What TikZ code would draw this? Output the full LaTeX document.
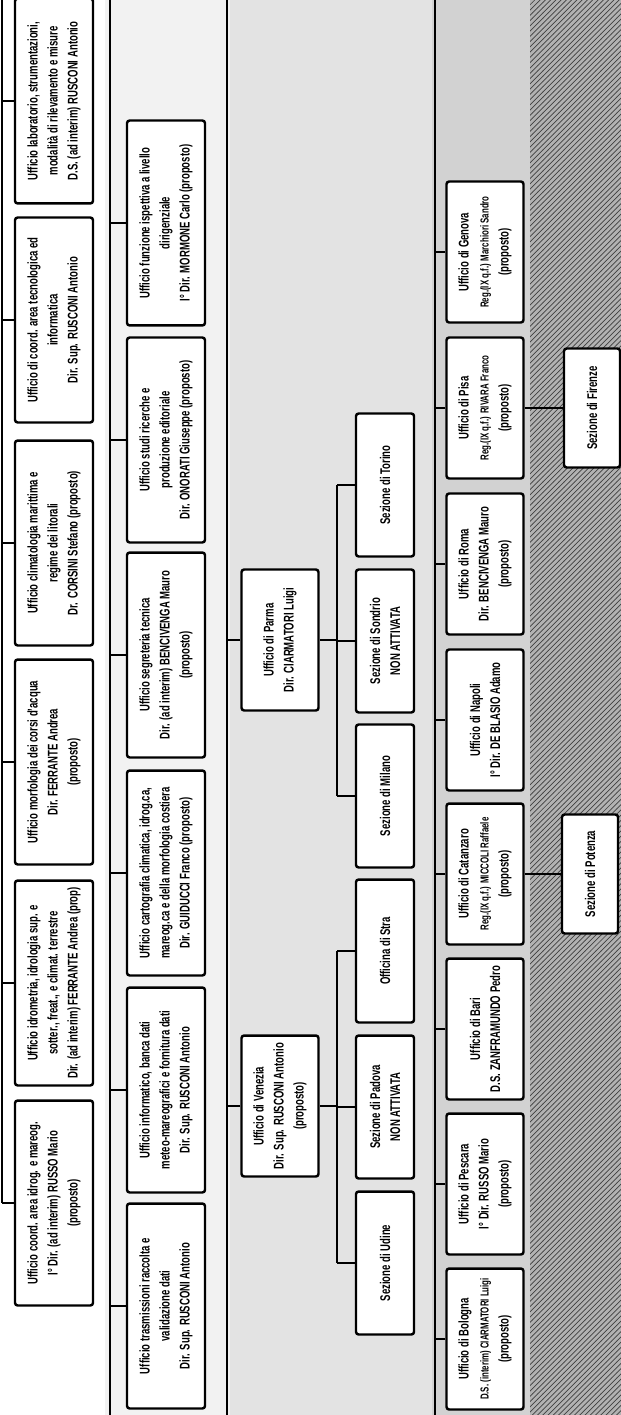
\documentclass[tikz,border=0pt]{standalone}
\usepackage{fontspec}
\setmainfont[FakeStretch=0.68]{Liberation Sans}
\usetikzlibrary{positioning,patterns}

\newcommand\regline[1]{{\fontsize{6.6}{11.4}\selectfont #1}}

\tikzset{
  office/.style={draw, line width=1.4pt, fill=white, rounded corners=1.5pt, rotate=90,
    align=center, inner sep=1pt, font=\bfseries\fontsize{8}{11.4}\selectfont},
  big/.style={office, minimum width=4.1cm, minimum height=1.56cm},
  mid/.style={office, minimum width=2.82cm, minimum height=1.54cm},
  sez/.style={office, minimum width=2.86cm, minimum height=1.16cm},
  small/.style={office, minimum width=2.38cm, minimum height=1.12cm},
  link/.style={line width=0.9pt},
}

\begin{document}
\begin{tikzpicture}[x=0.02cm, y=-0.02cm]
  \useasboundingbox (0,0) rectangle (621,1415);
  \fill[white] (0,0) rectangle (621,1415);
  \fill[gray!10] (105,0) rectangle (230,1415);
  \fill[gray!22] (230,0) rectangle (432,1415);
  \fill[gray!35] (432,0) rectangle (530,1415);
  \fill[gray!60] (530,0) rectangle (621,1415);
  \fill[pattern=north east lines, pattern color=black!75] (530,0) rectangle (621,1415);

  \coordinate (b1) at (2,0);
  \coordinate (s2a) at (110,0);
  \coordinate (s2b) at (110,1415);
  \coordinate (s3a) at (227,0);
  \coordinate (s3b) at (227,1415);
  \coordinate (s4) at (337,0);
  \coordinate (s5a) at (435,0);
  \coordinate (s5b) at (435,1415);

  \node[big] (lab) at (54,101) {Ufficio laboratorio, strumentazioni,\\ modalità di rilevamento e misure\\ D.S. (ad interim) RUSCONI Antonio};
  \node[big] (tecn) at (54,320) {Ufficio di coord. area tecnologica ed\\ informatica\\ Dir. Sup. RUSCONI Antonio};
  \node[big] (clim) at (54,543) {Ufficio climatologia marittima e\\ regime dei litorali\\ Dr. CORSINI Stefano (proposto)};
  \node[big] (morf) at (54,762) {Ufficio morfologia dei corsi d'acqua\\ Dir. FERRANTE Andrea\\ (proposto)};
  \node[big] (idro) at (54,983) {Ufficio idrometria, idrologia sup. e\\ sotter., freat., e climat. terrestre\\ Dir. (ad interim) FERRANTE Andrea (prop)};
  \node[big] (cidr) at (54,1203) {Ufficio coord. area idrog. e mareog.\\ I° Dir. (ad interim) RUSSO Mario\\ (proposto)};

  \node[big] (funz) at (166,223) {Ufficio funzione ispettiva a livello\\ dirigenziale\\ I° Dir. MORMONE Carlo (proposto)};
  \node[big] (stud) at (166,440) {Ufficio studi ricerche e\\ produzione editoriale\\ Dir. ONORATI Giuseppe (proposto)};
  \node[big] (segr) at (166,655) {Ufficio segreteria tecnica\\ Dir. (ad interim) BENCIVENGA Mauro\\ (proposto)};
  \node[big] (cart) at (166,873) {Ufficio cartografia climatica, idrog.ca,\\ mareog.ca e della morfologia costiera\\ Dir. GUIDUCCI Franco (proposto)};
  \node[big] (info) at (166,1090) {Ufficio informatico, banca dati\\ meteo-mareografici e fornitura dati\\ Dir. Sup. RUSCONI Antonio};
  \node[big] (tras) at (166,1306) {Ufficio trasmissioni raccolta e\\ validazione dati\\ Dir. Sup. RUSCONI Antonio};

  \node[mid] (parma) at (280,640) {Ufficio di Parma\\ Dir. CIARMATORI Luigi};
  \node[mid] (venezia) at (280,1106) {Ufficio di Venezia\\ Dir. Sup. RUSCONI Antonio\\ (proposto)};

  \node[sez] (torino) at (385,485) {Sezione di Torino};
  \node[sez] (sondrio) at (385,641) {Sezione di Sondrio\\ NON ATTIVATA};
  \node[sez] (milano) at (385,796) {Sezione di Milano};
  \node[sez] (stra) at (385,951) {Officina di Stra};
  \node[sez] (padova) at (385,1107) {Sezione di Padova\\ NON ATTIVATA};
  \node[sez] (udine) at (385,1263) {Sezione di Udine};

  \node[mid] (genova) at (485,252) {Ufficio di Genova\\ \regline{Reg.(IX q.f.) Marchiori Sandro}\\ (proposto)};
  \node[mid] (pisa) at (485,408) {Ufficio di Pisa\\ \regline{Reg.(IX q.f.) RIVARA Franco}\\ (proposto)};
  \node[mid] (roma) at (485,564) {Ufficio di Roma\\ Dir. BENCIVENGA Mauro\\ (proposto)};
  \node[mid] (napoli) at (485,720) {Ufficio di Napoli\\ I° Dir. DE BLASIO Adamo};
  \node[mid] (catanzaro) at (485,874) {Ufficio di Catanzaro\\ \regline{Reg.(IX q.f.) MICCOLI Raffaele}\\ (proposto)};
  \node[mid] (bari) at (485,1029) {Ufficio di Bari\\ D.S. ZANFRAMUNDO Pedro};
  \node[mid] (pescara) at (485,1184) {Ufficio di Pescara\\ I° Dir. RUSSO Mario\\ (proposto)};
  \node[mid] (bologna) at (485,1339) {Ufficio di Bologna\\ \regline{D.S. (interim) CIARMATORI Luigi}\\ (proposto)};

  \node[small] (firenze) at (592,408) {Sezione di Firenze};
  \node[small] (potenza) at (590,874) {Sezione di Potenza};

  \draw[link] (b1) -- (cidr.north -| b1);
  \foreach \n in {lab,tecn,clim,morf,idro,cidr}
    \draw[link] (\n.north) -- (\n.north -| b1);
  \draw[link] (s2a) -- (s2b);
  \foreach \n in {funz,stud,segr,cart,info,tras}
    \draw[link] (\n.north) -- (\n.north -| s2a);
  \draw[link] (s3a) -- (s3b);
  \draw[link] (parma.north) -- (parma.north -| s3a);
  \draw[link] (venezia.north) -- (venezia.north -| s3a);
  \draw[link] (torino.north -| s4) -- (milano.north -| s4);
  \draw[link] (stra.north -| s4) -- (udine.north -| s4);
  \draw[link] (parma.south) -- (parma.south -| s4);
  \draw[link] (venezia.south) -- (venezia.south -| s4);
  \foreach \n in {torino,sondrio,milano,stra,padova,udine}
    \draw[link] (\n.north) -- (\n.north -| s4);
  \draw[link] (s5a) -- (s5b);
  \foreach \n in {genova,pisa,roma,napoli,catanzaro,bari,pescara,bologna}
    \draw[link] (\n.north) -- (\n.north -| s5a);
  \draw[link] (pisa.south) -- (firenze.north);
  \draw[link] (catanzaro.south) -- (potenza.north);
\end{tikzpicture}
\end{document}
